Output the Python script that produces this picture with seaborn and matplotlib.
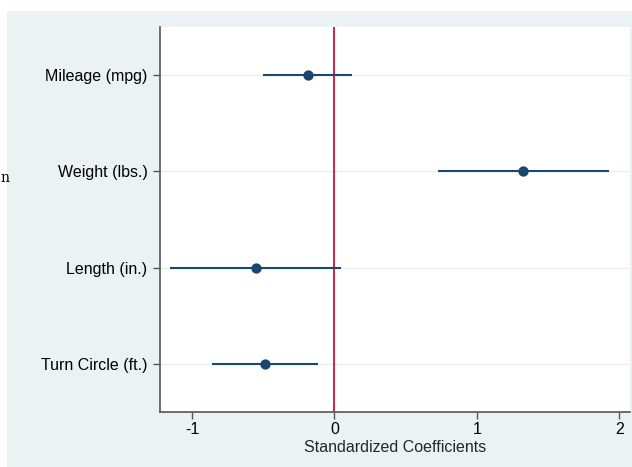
import matplotlib
matplotlib.use("Agg")
import matplotlib.pyplot as plt
from matplotlib.patches import Rectangle
import seaborn as sns
import pandas as pd

variables = ["Mileage (mpg)", "Weight (lbs.)", "Length (in.)", "Turn Circle (ft.)"]
coef = [-0.183, 1.327, -0.552, -0.487]
ci_low = [-0.50, 0.726, -1.154, -0.859]
ci_high = [0.126, 1.927, 0.047, -0.114]
xticks = [-1, 0, 1, 2]

df = pd.DataFrame({"variable": variables, "coef": coef, "lo": ci_low, "hi": ci_high})

sns.set_theme(style="white")
plt.rcParams["font.family"] = ["Liberation Sans", "DejaVu Sans"]

W, H = 632, 467
fig = plt.figure(figsize=(W / 100, H / 100), dpi=100, facecolor="white")
bg = "#eaf2f3"
fig.patches.append(Rectangle((7 / W, 0), (W - 7) / W, (H - 11) / H,
                             transform=fig.transFigure, facecolor=bg,
                             edgecolor="none", zorder=-10))
ax = fig.add_axes([160 / W, (H - 412) / H, 470 / W, 385 / H])
ax.set_zorder(1)
ax.set_facecolor("white")

navy = "#1a476f"
ypos = list(range(len(variables)))
for y in ypos:
    ax.axhline(y, color="#e9f0f1", lw=1.0, zorder=1)
ax.axvline(0, color="#d0103a", lw=1.3, zorder=2)
ax.hlines(ypos, df["lo"], df["hi"], color=navy, lw=1.5, zorder=3)
sns.scatterplot(x=df["coef"], y=ypos, ax=ax, color=navy, s=55,
                edgecolor=navy, linewidth=0, zorder=4)

ax.set_ylim(3.5, -0.5)
ax.set_xlim(-1.225, 2.076)
ax.set_yticks(ypos)
ax.set_yticklabels(variables)
ax.set_xticks(xticks)
ax.set_xticklabels([str(t) for t in xticks])
ax.set_xlabel("Standardized Coefficients", fontsize=11.5, labelpad=2)
ax.set_ylabel("")

for s in ["top", "right"]:
    ax.spines[s].set_visible(False)
for s in ["left", "bottom"]:
    ax.spines[s].set_color("#555555")
    ax.spines[s].set_linewidth(1.2)
ax.tick_params(axis="both", direction="out", length=5, width=1,
               color="#555555", labelsize=11.5, labelcolor="black",
               left=True, bottom=True)
ax.tick_params(axis="y", pad=4)
ax.tick_params(axis="x", pad=2)

fig.text(0.5 / W, 1 - 178 / H, "n", family="serif", fontsize=10, ha="left",
         va="center", color="black")

fig.savefig("out.png", dpi=100, facecolor="white")
